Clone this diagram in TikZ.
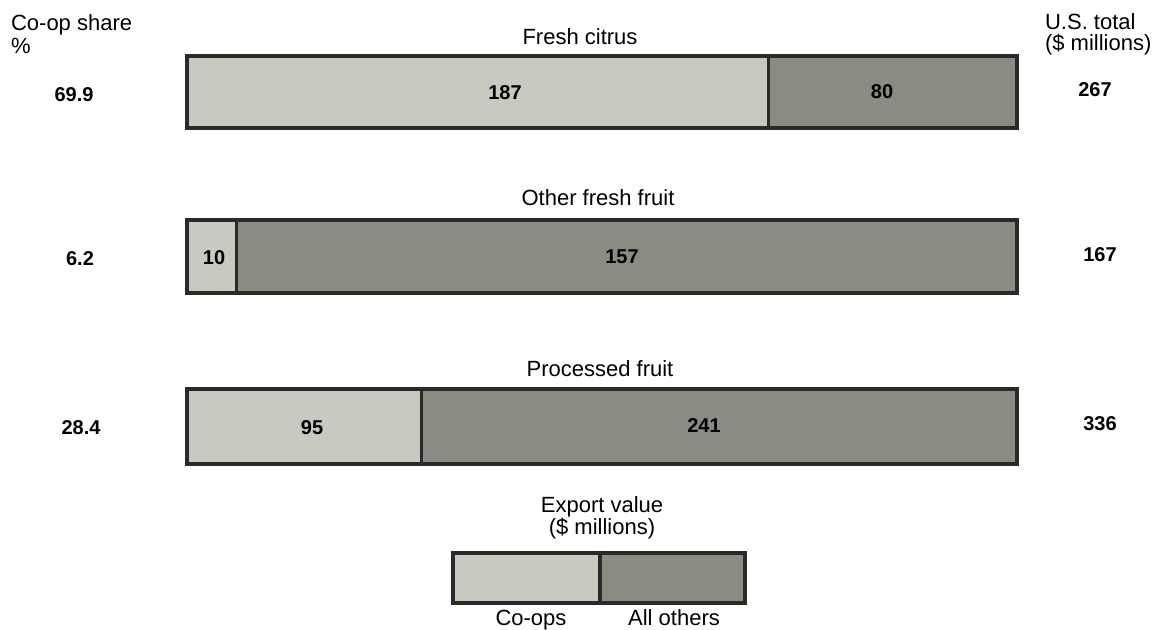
\documentclass[tikz,border=0pt]{standalone}
\usepackage{fontspec}
\setmainfont{Liberation Sans}
\usepackage{xcolor}
\definecolor{mlight}{HTML}{CAC9C0}
\definecolor{mdark}{HTML}{8C8B81}
\definecolor{medge}{HTML}{2A2A2A}
\usepackage{tikz}
\usetikzlibrary{calc}

\begin{document}
\begin{tikzpicture}[x=0.5pt, y=-0.5pt, font=\fontsize{11}{13}\selectfont]
            % Define parameters
            \def\xl{187}       % left end of every bar
            \def\xr{1017}      % right end of every bar
            \def\frw{1.7pt}    % frame width
            \useasboundingbox (0,0) rectangle (1156,630);

            % Column heads
            \node[anchor=base west] (share) at (4,31) {Co-op share};
            \node[anchor=base west] (pct) at (4,54) {\%};
            \node[anchor=base west] (total) at (1038,30) {U.S. total};
            \node[anchor=base west] (mill) at (1038,51) {(\$ millions)};

            % Fresh citrus: 187 of 267
            \node (citrus) at (580,37) {Fresh citrus};
            \coordinate (A1) at (\xl,56);
            \coordinate (B1) at (\xr,128);
            \coordinate (C1) at ($(A1)!187/267!(B1)$);
            \filldraw[mlight, draw=medge, line width=\frw] (A1) rectangle (C1 |- B1);
            \filldraw[mdark, draw=medge, line width=\frw] (C1 |- A1) rectangle (B1);
            \node[font=\bfseries] (s1) at (74,95) {69.9};
            \node[font=\bfseries] (a1) at (505,93) {187};
            \node[font=\bfseries] (b1) at (882,92) {80};
            \node[font=\bfseries] (t1) at (1095,90) {267};

            % Other fresh fruit: 10 of 167
            \node (fresh) at (598,198) {Other fresh fruit};
            \coordinate (A2) at (\xl,220);
            \coordinate (B2) at (\xr,293);
            \coordinate (C2) at ($(A2)!10/167!(B2)$);
            \filldraw[mlight, draw=medge, line width=\frw] (A2) rectangle (C2 |- B2);
            \filldraw[mdark, draw=medge, line width=\frw] (C2 |- A2) rectangle (B2);
            \node[font=\bfseries] (s2) at (80,259) {6.2};
            \node[font=\bfseries] (a2) at (214,258) {10};
            \node[font=\bfseries] (b2) at (622,257) {157};
            \node[font=\bfseries] (t2) at (1100,255) {167};

            % Processed fruit: 95 of 336
            \node (proc) at (600,369) {Processed fruit};
            \coordinate (A3) at (\xl,389);
            \coordinate (B3) at (\xr,464);
            \coordinate (C3) at ($(A3)!95/336!(B3)$);
            \filldraw[mlight, draw=medge, line width=\frw] (A3) rectangle (C3 |- B3);
            \filldraw[mdark, draw=medge, line width=\frw] (C3 |- A3) rectangle (B3);
            \node[font=\bfseries] (s3) at (81,428) {28.4};
            \node[font=\bfseries] (a3) at (312,428) {95};
            \node[font=\bfseries] (b3) at (704,426) {241};
            \node[font=\bfseries] (t3) at (1100,424) {336};

            % Key
            \node (key) at (602,507) {Export value};
            \node (keyu) at (602,529) {(\$ millions)};
            \coordinate (K1) at (453,553);
            \coordinate (K2) at (745,603);
            \coordinate (K3) at (600,553);
            \filldraw[mlight, draw=medge, line width=\frw] (K1) rectangle (K3 |- K2);
            \filldraw[mdark, draw=medge, line width=\frw] (K3) rectangle (K2);
            \node[anchor=base] (coops) at (531,625) {Co-ops};
            \node[anchor=base] (others) at (674,625) {All others};
          \end{tikzpicture}
\end{document}
